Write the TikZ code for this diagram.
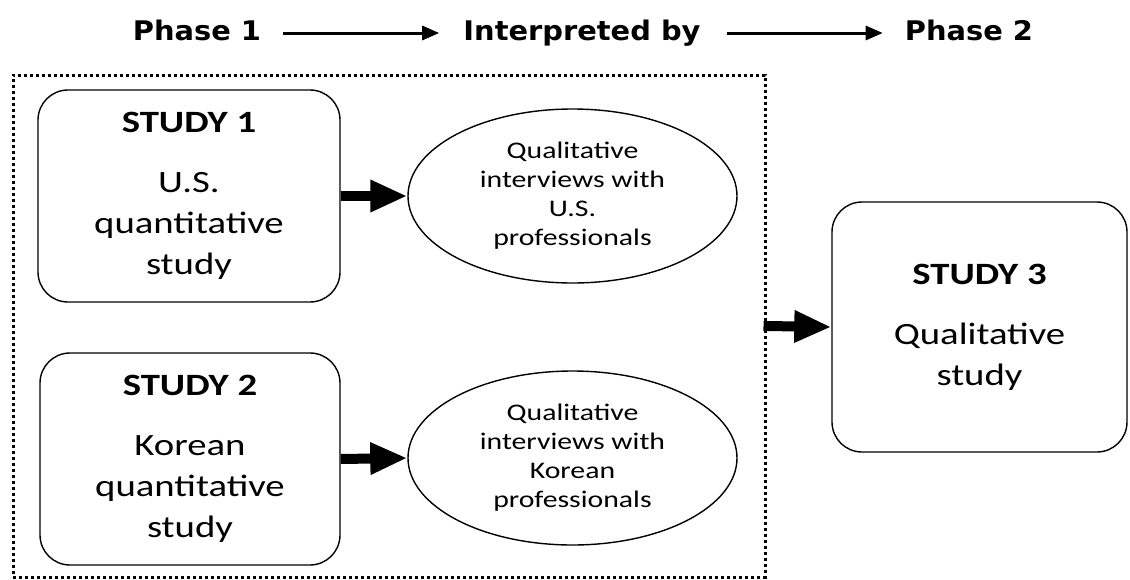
\documentclass[tikz,border=0pt]{standalone}
\usepackage{fontspec}
\setmainfont{Carlito}[FakeStretch=1.25]
\newfontfamily\hdrfont{DejaVu Sans}[FakeStretch=1.07]
\usetikzlibrary{arrows.meta,shapes.geometric,positioning}

\tikzset{
  studybox/.style={draw,line width=1.4pt,rounded corners=30pt,align=center,
    font=\fontsize{31}{41}\selectfont,inner sep=0pt},
  interview/.style={draw,ellipse,line width=1.4pt,align=center,inner sep=0pt,
    minimum width=329pt,minimum height=174pt,font=\fontsize{23.8}{29}\selectfont},
  phase/.style={inner sep=0pt,text height=20pt,text depth=6pt,
    font=\hdrfont\bfseries\fontsize{27}{30}\selectfont},
  hdrarrow/.style={line width=3pt,-{Triangle[length=17pt,width=14pt]}},
  bigarrow/.style={line width=10pt,-{Triangle[length=37pt,width=30pt]}},
  phasebox/.style={draw,line width=3pt,dash pattern=on 3pt off 3pt,inner sep=0pt}
}

\begin{document}
\begin{tikzpicture}[x=1pt,y=-1pt]
\useasboundingbox (0,0) rectangle (1130,579);

% header
\node[phase] (ph1) at (197,33) {Phase 1};
\node[phase] (interp) at (582,33) {Interpreted by};
\node[phase] (ph2) at (969,33) {Phase 2};
\draw[hdrarrow,shorten <=22pt,shorten >=24pt] (ph1) -- (interp);
\draw[hdrarrow,shorten <=26pt,shorten >=22pt] (interp) -- (ph2);

% phase 1 frame
\node[phasebox,minimum width=752pt,minimum height=502pt] (frame) at (389,326) {};

\node[studybox,minimum width=302pt,minimum height=212pt] (s1) at (189,196)
  {\textbf{STUDY 1}\\[19pt]U.S.\\quantitative\\study};
\node[studybox,minimum width=300pt,minimum height=212pt] (s2) at (190,459)
  {\textbf{STUDY 2}\\[19pt]Korean\\quantitative\\study};
\node[interview] (int1) at (572.5,196) {Qualitative\\interviews with\\U.S.\\professionals};
\node[interview] (int2) at (572.5,458) {Qualitative\\interviews with\\Korean\\professionals};

% phase 2
\node[studybox,minimum width=295pt,minimum height=250pt] (s3) at (979.5,327)
  {\textbf{STUDY 3}\\[19pt]Qualitative\\study};

\draw[bigarrow] (s1) -- (int1);
\draw[bigarrow] (s2.east) -- (int2.west);
\draw[bigarrow,shorten <=-3pt] (frame.east) -- (s3.west);
\end{tikzpicture}
\end{document}
